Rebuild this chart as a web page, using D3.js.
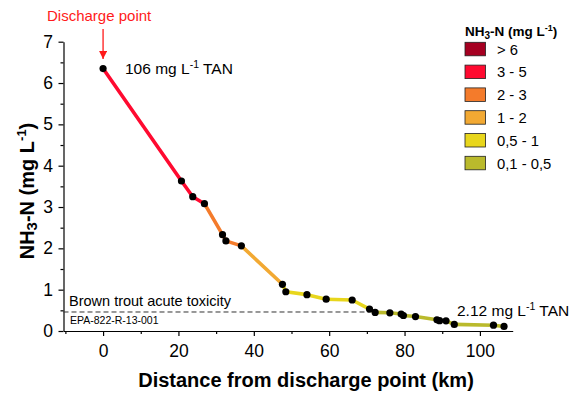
<!DOCTYPE html>
<html>
<head>
<meta charset="utf-8">
<script src="https://cdn.jsdelivr.net/npm/d3@7"></script>
<style>
  body { margin: 0; background: #fff; }
  text { font-family: "Liberation Sans", Arial, sans-serif; }
</style>
</head>
<body>
<svg width="572" height="394"></svg>
<script>
// distance along the river (km) and NH3-N (mg/L)
var distance = [0, 20.8, 23.8, 26.9, 31.7, 32.6, 36.7, 47.6, 48.5, 54.1, 59.2, 66.1, 70.7, 72.2, 76.1, 79.1, 79.7, 82.9, 88.6, 89.3, 91.0, 93.2, 103.6, 106.4];
var nh3 = [6.35, 3.63, 3.25, 3.08, 2.33, 2.18, 2.06, 1.13, 0.95, 0.88, 0.77, 0.75, 0.53, 0.45, 0.44, 0.41, 0.375, 0.35, 0.27, 0.25, 0.245, 0.16, 0.14, 0.11];

var classLabels = ["> 6", "3 - 5", "2 - 3", "1 - 2", "0,5 - 1", "0,1 - 0,5"];
var classMin = [6, 3, 2, 1, 0.5, 0];
var classColors = ["#a50021", "#ff0a30", "#f47b2b", "#f2a933", "#e8d61c", "#baba2c"];

var xTicks = [0, 20, 40, 60, 80, 100];
var yTicks = [0, 1, 2, 3, 4, 5, 6, 7];
var toxicLimit = 0.46;

var svg = d3.select("svg");

var x = d3.scaleLinear().domain([-10.5, 108.7]).range([63.5, 512.7]);
var y = d3.scaleLinear().domain([0, 7]).range([331, 41.7]);

function colorFor(v) {
  for (var i = 0; i < classMin.length; i++) {
    if (v >= classMin[i]) return classColors[i];
  }
  return classColors[classColors.length - 1];
}

// axes
var xAxis = svg.append("g")
    .attr("transform", "translate(0," + y(0) + ")")
    .call(d3.axisBottom(x).tickValues(xTicks).tickSize(5).tickSizeOuter(0).tickFormat(d3.format("d")));
svg.append("g")
    .attr("transform", "translate(0," + y(0) + ")")
    .call(d3.axisBottom(x).tickValues([-10, 10, 30, 50, 70, 90]).tickSize(3).tickSizeOuter(0).tickFormat(""))
    .select(".domain").remove();

var yAxis = svg.append("g")
    .attr("transform", "translate(" + x.range()[0] + ",0)")
    .call(d3.axisLeft(y).tickValues(yTicks).tickSize(5).tickSizeOuter(0).tickFormat(d3.format("d")));
svg.append("g")
    .attr("transform", "translate(" + x.range()[0] + ",0)")
    .call(d3.axisLeft(y).tickValues(d3.range(0.5, 7, 1)).tickSize(3).tickSizeOuter(0).tickFormat(""))
    .select(".domain").remove();

svg.selectAll(".tick line, .domain").attr("stroke", "#000").attr("stroke-width", 1.2);
xAxis.selectAll("text").attr("font-size", 17.5).attr("font-family", "Liberation Sans, Arial").attr("dy", "1.02em");
yAxis.selectAll("text").attr("font-size", 17.5).attr("font-family", "Liberation Sans, Arial").attr("dx", "-0.15em");

// axis titles
svg.append("text")
    .attr("x", 306).attr("y", 387)
    .attr("text-anchor", "middle")
    .attr("font-size", 20).attr("font-weight", "bold")
    .text("Distance from discharge point (km)");

var yl = svg.append("text")
    .attr("transform", "translate(34,191) rotate(-90)")
    .attr("text-anchor", "middle")
    .attr("font-size", 20).attr("font-weight", "bold");
yl.append("tspan").text("NH");
yl.append("tspan").attr("font-size", 15).attr("dy", 3).text("3");
yl.append("tspan").attr("dy", -3).text("-N (mg L");
yl.append("tspan").attr("font-size", 13).attr("dy", -8).text("-1");
yl.append("tspan").attr("dy", 8).text(")");

// toxicity reference line
svg.append("line")
    .attr("x1", x.range()[0]).attr("x2", x(70.5))
    .attr("y1", y(toxicLimit)).attr("y2", y(toxicLimit))
    .attr("stroke", "#333").attr("stroke-width", 1)
    .attr("stroke-dasharray", "5,3");
svg.append("text")
    .attr("x", 69).attr("y", 306)
    .attr("font-size", 14.5)
    .text("Brown trout acute toxicity");
svg.append("text")
    .attr("x", 70).attr("y", 324)
    .attr("font-size", 10.5)
    .text("EPA-822-R-13-001");

// coloured line segments
var pts = distance.map(function(d, i) { return {d: d, v: nh3[i]}; });
var segs = d3.pairs(pts);
svg.append("g").selectAll("line")
  .data(segs)
  .enter().append("line")
    .attr("x1", function(s) { return x(s[0].d); })
    .attr("y1", function(s) { return y(s[0].v); })
    .attr("x2", function(s) { return x(s[1].d); })
    .attr("y2", function(s) { return y(s[1].v); })
    .attr("stroke", function(s) { return colorFor(s[1].v); })
    .attr("stroke-width", 3.6)
    .attr("stroke-linecap", "round");

svg.append("g").selectAll("circle")
  .data(pts)
  .enter().append("circle")
    .attr("cx", function(p) { return x(p.d); })
    .attr("cy", function(p) { return y(p.v); })
    .attr("r", 3.6)
    .attr("fill", "#000");

// discharge annotation
svg.append("text")
    .attr("x", 47).attr("y", 21)
    .attr("font-size", 15).attr("fill", "#ff1a1a")
    .text("Discharge point");
svg.append("defs").append("marker")
    .attr("id", "arr").attr("viewBox", "0 0 10 10")
    .attr("refX", 10).attr("refY", 5)
    .attr("markerWidth", 8).attr("markerHeight", 8)
    .attr("markerUnits", "userSpaceOnUse")
    .attr("orient", "auto")
  .append("path").attr("d", "M0,0L10,5L0,10Z").attr("fill", "#ff1a1a");
svg.append("line")
    .attr("x1", x(0)).attr("x2", x(0))
    .attr("y1", 29).attr("y2", 59)
    .attr("stroke", "#ff1a1a").attr("stroke-width", 1.3)
    .attr("marker-end", "url(#arr)");

function tanLabel(tx, ty, num) {
  var t = svg.append("text").attr("x", tx).attr("y", ty).attr("font-size", 15.5);
  t.append("tspan").text(num + " mg L");
  t.append("tspan").attr("font-size", 10.5).attr("dy", -6).text("-1");
  t.append("tspan").attr("dy", 6).text(" TAN");
}
tanLabel(125, 74, "106");
tanLabel(457, 316, "2.12");

// legend
var lt = svg.append("text")
    .attr("x", 465).attr("y", 36)
    .attr("font-size", 13.5).attr("font-weight", "bold");
lt.append("tspan").text("NH");
lt.append("tspan").attr("font-size", 10).attr("dy", 3).text("3");
lt.append("tspan").attr("dy", -3).text("-N (mg L");
lt.append("tspan").attr("font-size", 9).attr("dy", -5).text("-1");
lt.append("tspan").attr("dy", 5).text(")");

var leg = svg.append("g").selectAll("g")
  .data(classLabels)
  .enter().append("g")
    .attr("transform", function(d, i) { return "translate(465," + (42.3 + i * 22.8) + ")"; });
leg.append("rect")
    .attr("width", 20.5).attr("height", 13.5)
    .attr("fill", function(d, i) { return classColors[i]; })
    .attr("stroke", "#222").attr("stroke-width", 0.8);
leg.append("text")
    .attr("x", 32).attr("y", 12.3)
    .attr("font-size", 14.8)
    .text(function(d) { return d; });
</script>
</body>
</html>
